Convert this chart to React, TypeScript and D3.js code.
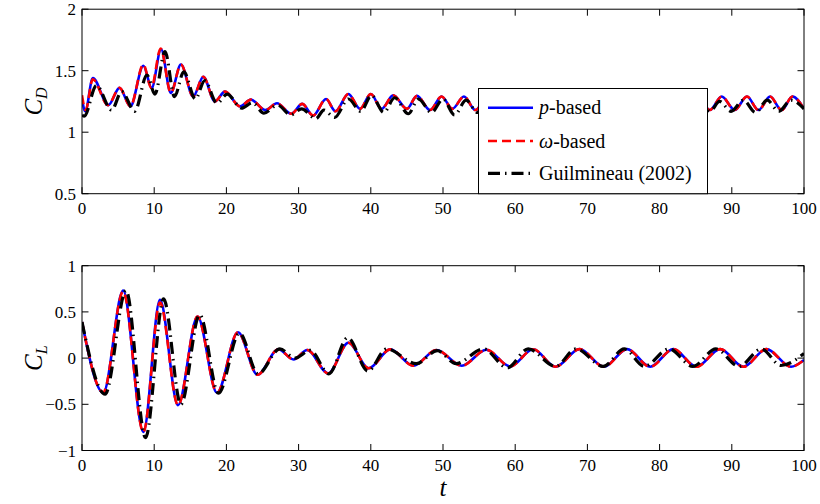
import React from 'react';
import * as d3 from 'd3';

// ---------- data (extrema) ----------
const xTicks = [0, 10, 20, 30, 40, 50, 60, 70, 80, 90, 100];
const cdTicks = [0.5, 1, 1.5, 2];
const cdTickLabels = ['0.5', '1', '1.5', '2'];
const clTicks = [-1, -0.5, 0, 0.5, 1];
const clTickLabels = ['\u22121', '\u22120.5', '0', '0.5', '1'];

const legendLabels = ['p-based', '\u03c9-based', 'Guilmineau (2002)'];

// C_D, p-based
const cdPBased: [number, number][] = [
  [0, 1.27], [0.45, 1.17], [1.5, 1.44], [3.65, 1.22], [5.2, 1.36], [6.7, 1.21],
  [8.5, 1.54], [9.65, 1.36], [10.95, 1.675], [12.3, 1.32], [13.7, 1.55], [15.4, 1.29],
  [16.8, 1.45], [18.4, 1.25], [19.8, 1.33], [21.9, 1.21], [23.4, 1.265], [25.4, 1.18],
  [27.0, 1.235], [29.0, 1.15], [30.5, 1.23], [32.0, 1.135], [33.8, 1.27], [35.1, 1.17],
  [36.9, 1.31], [38.5, 1.19], [40.0, 1.31], [41.5, 1.19], [43.1, 1.3], [45.0, 1.19],
  [46.4, 1.295], [48.2, 1.18], [49.8, 1.29], [51.3, 1.19], [52.9, 1.29], [54.5, 1.18],
  [56.15, 1.29], [57.8, 1.18], [59.4, 1.29], [61.0, 1.18], [62.6, 1.29], [64.3, 1.18],
  [65.9, 1.29], [67.5, 1.18], [69.1, 1.29], [70.8, 1.18], [72.4, 1.29], [74.0, 1.18],
  [75.6, 1.29], [77.3, 1.18], [78.9, 1.29], [80.5, 1.18], [82.1, 1.29], [83.7, 1.18],
  [85.35, 1.29], [86.95, 1.18], [88.6, 1.29], [90.4, 1.18], [92.1, 1.29], [93.7, 1.18],
  [95.3, 1.29], [96.9, 1.18], [98.4, 1.29], [100, 1.19],
];

// C_D, omega-based
const cdOmegaBased: [number, number][] = [
  [0, 1.3], [0.5, 1.18], [1.5, 1.43], [3.6, 1.22], [5.2, 1.36], [6.7, 1.21],
  [8.5, 1.55], [9.6, 1.36], [10.9, 1.68], [12.3, 1.32], [13.7, 1.55], [15.4, 1.29],
  [16.8, 1.45], [18.4, 1.25], [19.8, 1.33], [21.9, 1.21], [23.4, 1.265], [25.4, 1.18],
  [27.0, 1.235], [29.0, 1.15], [30.5, 1.23], [32.0, 1.135], [33.8, 1.27], [35.1, 1.17],
  [36.9, 1.31], [38.5, 1.19], [40.0, 1.31], [41.5, 1.19], [43.1, 1.3], [45.0, 1.19],
  [46.4, 1.295], [48.2, 1.18], [49.8, 1.29], [51.3, 1.19], [52.9, 1.29], [54.5, 1.18],
  [56.15, 1.29], [57.8, 1.18], [59.4, 1.29], [61.0, 1.18], [62.6, 1.29], [64.3, 1.18],
  [65.9, 1.29], [67.5, 1.18], [69.1, 1.29], [70.8, 1.18], [72.4, 1.29], [74.0, 1.18],
  [75.6, 1.29], [77.3, 1.18], [78.9, 1.29], [80.5, 1.18], [82.1, 1.29], [83.7, 1.18],
  [85.35, 1.29], [86.95, 1.18], [88.6, 1.29], [90.4, 1.18], [92.1, 1.29], [93.7, 1.18],
  [95.3, 1.29], [96.9, 1.18], [98.4, 1.29], [100, 1.19],
];

// C_D, Guilmineau (2002)
const cdGuilmineau: [number, number][] = [
  [0, 1.14], [0.3, 1.13], [2.0, 1.38], [4.1, 1.18], [5.5, 1.33], [7.3, 1.17],
  [9.0, 1.465], [10.1, 1.31], [11.5, 1.655], [12.8, 1.29], [14.1, 1.49], [15.7, 1.27],
  [17.0, 1.42], [18.7, 1.235], [20.1, 1.31], [22.1, 1.195], [23.6, 1.24], [25.2, 1.155],
  [27.1, 1.22], [28.9, 1.14], [30.4, 1.19], [32.4, 1.11], [33.5, 1.18], [35.0, 1.12],
  [36.9, 1.27], [38.6, 1.17], [40.1, 1.3], [41.8, 1.16], [43.3, 1.28], [45.2, 1.15],
  [46.6, 1.27], [48.4, 1.16], [50.0, 1.27], [51.6, 1.14], [53.2, 1.26], [54.8, 1.16],
  [56.4, 1.26], [58.0, 1.16], [59.6, 1.26], [61.2, 1.16], [62.8, 1.26], [64.5, 1.16],
  [66.1, 1.26], [67.7, 1.16], [69.3, 1.26], [71.0, 1.16], [72.6, 1.26], [74.2, 1.16],
  [75.8, 1.26], [77.4, 1.16], [79.0, 1.26], [80.7, 1.16], [82.3, 1.26], [83.9, 1.16],
  [85.5, 1.26], [87.0, 1.17], [88.3, 1.25], [89.9, 1.17], [91.6, 1.26], [93.3, 1.16],
  [94.9, 1.26], [96.5, 1.17], [98.2, 1.26], [100, 1.19],
];

// C_L, p-based
const clPBased: [number, number][] = [
  [0, 0.39], [2.95, -0.375], [5.7, 0.73], [8.5, -0.8], [10.8, 0.63], [13.3, -0.51],
  [16.0, 0.45], [18.7, -0.375], [21.6, 0.28], [24.3, -0.18], [27.2, 0.095], [29.3, -0.015],
  [31.2, 0.087], [34.1, -0.166], [36.9, 0.166], [39.7, -0.11], [42.7, 0.094], [45.9, -0.083],
  [49.1, 0.087], [52.6, -0.083], [56.0, 0.09], [59.3, -0.09], [62.5, 0.095], [65.6, -0.094],
  [68.9, 0.097], [72.3, -0.094], [75.5, 0.097], [78.7, -0.094], [81.9, 0.097], [85.1, -0.094],
  [88.4, 0.097], [91.6, -0.094], [94.8, 0.097], [98.2, -0.094], [100, -0.02],
];

// C_L, omega-based
const clOmegaBased: [number, number][] = [
  [0, 0.39], [2.95, -0.37], [5.7, 0.72], [8.5, -0.8], [10.8, 0.6], [13.3, -0.51],
  [16.0, 0.45], [18.7, -0.375], [21.6, 0.28], [24.3, -0.18], [27.2, 0.095], [29.3, -0.015],
  [31.2, 0.087], [34.1, -0.166], [36.9, 0.166], [39.7, -0.11], [42.7, 0.094], [45.9, -0.083],
  [49.1, 0.087], [52.6, -0.083], [56.0, 0.09], [59.3, -0.09], [62.5, 0.095], [65.6, -0.094],
  [68.9, 0.097], [72.3, -0.094], [75.5, 0.097], [78.7, -0.094], [81.9, 0.097], [85.1, -0.094],
  [88.4, 0.097], [91.6, -0.094], [94.8, 0.097], [98.2, -0.094], [100, -0.02],
];

// C_L, Guilmineau (2002)
const clGuilmineau: [number, number][] = [
  [0, 0.39], [3.2, -0.39], [6.1, 0.73], [8.8, -0.86], [11.3, 0.64], [13.7, -0.5],
  [16.3, 0.47], [18.9, -0.38], [21.8, 0.27], [24.4, -0.17], [27.4, 0.1], [29.5, 0.0],
  [31.6, 0.085], [34.2, -0.17], [36.8, 0.22], [39.6, -0.14], [42.2, 0.1], [46.3, -0.06],
  [49.2, 0.08], [51.8, -0.06], [55.6, 0.1], [58.9, -0.105], [61.8, 0.1], [65.6, -0.09],
  [68.4, 0.1], [72.2, -0.09], [75.1, 0.1], [77.9, -0.09], [81.3, 0.1], [84.6, -0.09],
  [87.8, 0.1], [91.0, -0.09], [94.1, 0.1], [96.8, -0.08], [100, 0.05],
];

// ---------- layout / styles ----------
const W = 820;
const H = 504;
const X0 = 82;
const X1 = 804;
const TICK = 6.5;
const FONT = 'Liberation Serif';

const styles = {
  p: { stroke: '#0000ff', width: 2.6, dash: undefined as string | undefined },
  w: { stroke: '#ff0000', width: 2.6, dash: '9,5' },
  g: { stroke: '#000000', width: 3.2, dash: '12,5,1.5,5' },
};

const x = d3.scaleLinear().domain([0, 100]).range([X0, X1]);

type Series = { data: [number, number][]; style: typeof styles.p };

function Panel(props: {
  id: string;
  top: number;
  bottom: number;
  domain: [number, number];
  yTicks: number[];
  yTickLabels: string[];
  series: Series[];
  children?: React.ReactNode;
}) {
  const { id, top, bottom, domain, yTicks, yTickLabels, series } = props;
  const y = d3.scaleLinear().domain(domain).range([bottom, top]);
  const line = d3
    .line<[number, number]>()
    .x((d) => x(d[0]))
    .y((d) => y(d[1]))
    .curve(d3.curveMonotoneX);
  return (
    <g>
      <defs>
        <clipPath id={id}>
          <rect x={X0} y={top} width={X1 - X0} height={bottom - top} />
        </clipPath>
      </defs>
      <g clipPath={`url(#${id})`}>
        {series.map((s, i) => (
          <path
            key={i}
            d={line(s.data) || ''}
            fill="none"
            stroke={s.style.stroke}
            strokeWidth={s.style.width}
            strokeDasharray={s.style.dash}
            strokeLinejoin="round"
          />
        ))}
      </g>
      {xTicks.map((t) => (
        <g key={'x' + t}>
          <line x1={x(t)} x2={x(t)} y1={bottom} y2={bottom - TICK} stroke="#000" strokeWidth={1} />
          <line x1={x(t)} x2={x(t)} y1={top} y2={top + TICK} stroke="#000" strokeWidth={1} />
          <text
            x={x(t)}
            y={bottom + 20}
            textAnchor="middle"
            style={{ fontFamily: FONT }}
            fontSize={17}
            fill="#000"
          >
            {t}
          </text>
        </g>
      ))}
      {yTicks.map((t, i) => (
        <g key={'y' + t}>
          <line x1={X0} x2={X0 + TICK} y1={y(t)} y2={y(t)} stroke="#000" strokeWidth={1} />
          <line x1={X1} x2={X1 - TICK} y1={y(t)} y2={y(t)} stroke="#000" strokeWidth={1} />
          <text
            x={X0 - 6}
            y={y(t) + 6}
            textAnchor="end"
            style={{ fontFamily: FONT }}
            fontSize={17}
            fill="#000"
          >
            {yTickLabels[i]}
          </text>
        </g>
      ))}
      <rect x={X0} y={top} width={X1 - X0} height={bottom - top} fill="none" stroke="#000" strokeWidth={1} />
      {props.children}
    </g>
  );
}

function Legend() {
  const bx = 478.5;
  const by = 88.5;
  const bw = 229;
  const bh = 105.2;
  const rows = [107.7, 141, 173.3];
  const st = [styles.p, styles.w, styles.g];
  return (
    <g>
      <rect x={bx} y={by} width={bw} height={bh} fill="#fff" stroke="#000" strokeWidth={1} />
      {rows.map((ry, i) => (
        <g key={i}>
          <line
            x1={488}
            x2={533}
            y1={ry}
            y2={ry}
            stroke={st[i].stroke}
            strokeWidth={st[i].width}
            strokeDasharray={st[i].dash}
          />
          <text x={539} y={ry + 6.5} style={{ fontFamily: FONT }} fontSize={20} fill="#000">
            {i === 0 ? (
              <>
                <tspan fontStyle="italic">p</tspan>
                <tspan>-based</tspan>
              </>
            ) : i === 1 ? (
              <>
                <tspan fontStyle="italic">{'\u03c9'}</tspan>
                <tspan>-based</tspan>
              </>
            ) : (
              legendLabels[2]
            )}
          </text>
        </g>
      ))}
    </g>
  );
}

export default function App() {
  const topTop = 9.2;
  const topBottom = 193.7;
  const botTop = 265.7;
  const botBottom = 450.5;
  return (
    <svg
      width={W}
      height={H}
      style={{ position: 'absolute', left: 0, top: 0, background: '#fff' }}
      xmlns="http://www.w3.org/2000/svg"
    >
      <rect x={0} y={0} width={W} height={H} fill="#fff" />
      <Panel
        id="clipCD"
        top={topTop}
        bottom={topBottom}
        domain={[0.5, 2]}
        yTicks={cdTicks}
        yTickLabels={cdTickLabels}
        series={[
          { data: cdPBased, style: styles.p },
          { data: cdOmegaBased, style: styles.w },
          { data: cdGuilmineau, style: styles.g },
        ]}
      >
        <Legend />
      </Panel>
      <Panel
        id="clipCL"
        top={botTop}
        bottom={botBottom}
        domain={[-1, 1]}
        yTicks={clTicks}
        yTickLabels={clTickLabels}
        series={[
          { data: clPBased, style: styles.p },
          { data: clOmegaBased, style: styles.w },
          { data: clGuilmineau, style: styles.g },
        ]}
      />
      <text
        transform={`translate(42,${(topTop + topBottom) / 2}) rotate(-90)`}
        textAnchor="middle"
        style={{ fontFamily: FONT }}
        fontSize={25}
        fontStyle="italic"
        fill="#000"
      >
        C<tspan fontSize={16} dy={5}>D</tspan>
      </text>
      <text
        transform={`translate(42,${(botTop + botBottom) / 2}) rotate(-90)`}
        textAnchor="middle"
        style={{ fontFamily: FONT }}
        fontSize={25}
        fontStyle="italic"
        fill="#000"
      >
        C<tspan fontSize={16} dy={5}>L</tspan>
      </text>
      <text
        x={(X0 + X1) / 2}
        y={496}
        textAnchor="middle"
        style={{ fontFamily: FONT }}
        fontSize={25}
        fontStyle="italic"
        fill="#000"
      >
        t
      </text>
    </svg>
  );
}
